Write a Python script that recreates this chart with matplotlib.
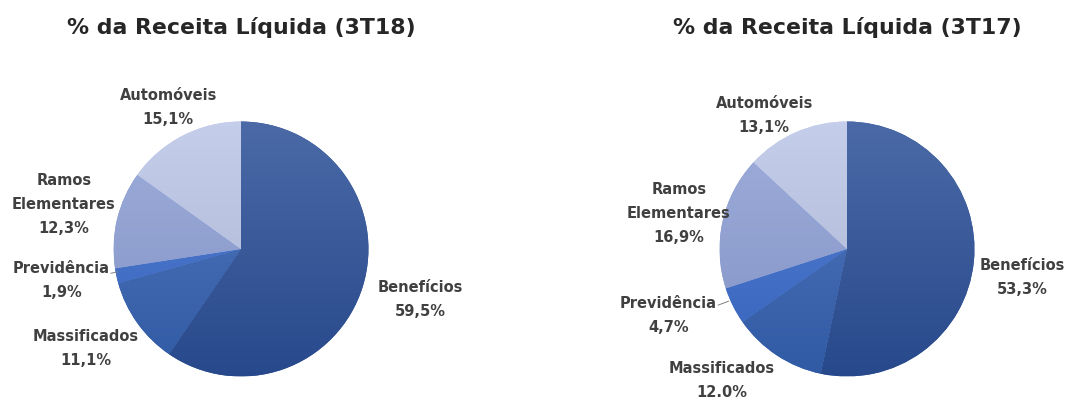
import matplotlib.pyplot as plt
import matplotlib.colors as mcolors
import numpy as np

# data
segments = ["Benefícios", "Massificados", "Previdência", "Ramos\nElementares", "Automóveis"]
share_3t18 = [59.5, 11.1, 1.9, 12.3, 15.1]
share_3t17 = [53.3, 12.0, 4.7, 16.9, 13.1]
labels_3t18 = ["59,5%", "11,1%", "1,9%", "12,3%", "15,1%"]
labels_3t17 = ["53,3%", "12.0%", "4,7%", "16,9%", "13,1%"]
titles = ["% da Receita Líquida (3T18)", "% da Receita Líquida (3T17)"]

colors = ["#2B4F97", "#3562B3", "#3A6BCC", "#8D9FD5", "#BAC5E6"]
text_color = "#404040"

# label anchors, in pie radius units
pos_3t18 = [(1.41, -0.40), (-1.22, -0.78), (-1.41, -0.25), (-1.39, 0.35), (-0.57, 1.11)]
pos_3t17 = [(1.375, -0.22), (-0.98, -1.03), (-1.40, -0.52), (-1.32, 0.28), (-0.65, 1.05)]

W, H = 1066, 401
fig = plt.figure(figsize=(W / 100, H / 100), dpi=100)


def shade(c, f):
    rgb = np.array(mcolors.to_rgb(c))
    if f > 0:
        return rgb + (1 - rgb) * f
    return rgb * (1 + f)


def draw_pie(cx, cy, r, values, pcts, positions, title, leader):
    ax = fig.add_axes([(cx - r) / W, (H - cy - r) / H, 2 * r / W, 2 * r / H])
    wedges, _ = ax.pie(values, colors=colors, startangle=90, counterclock=False,
                       radius=1, wedgeprops=dict(linewidth=0))
    # vertical gradient inside each wedge
    for w, c in zip(wedges, colors):
        top = shade(c, 0.15)
        bot = shade(c, -0.08)
        t = np.linspace(0, 1, 100)[:, None]
        img = top[None, :] * (1 - t[..., None]) + bot[None, :] * t[..., None]
        img = np.repeat(img, 2, axis=1)
        im = ax.imshow(img, extent=(-1, 1, -1, 1), origin="upper", zorder=1,
                       interpolation="bilinear")
        im.set_clip_path(w)
    ax.set_xlim(-1.02, 1.02)
    ax.set_ylim(-1.02, 1.02)
    ax.set_aspect("equal")
    ax.axis("off")
    for name, p, (x, y) in zip(segments, pcts, positions):
        ax.text(x, y, name + "\n" + p, ha="center", va="center", fontsize=10.5,
                fontweight="bold", color=text_color, linespacing=1.75, clip_on=False)
    ax.plot(leader[0], leader[1], color="#808080", lw=0.7, clip_on=False)
    fig.text(cx / W, 1 - 28 / H, title, ha="center", va="center", fontsize=15.8,
             fontweight="bold", color="#262626")


draw_pie(241, 249, 130, share_3t18, labels_3t18, pos_3t18, titles[0],
         ([-1.02, -0.97], [-0.19, -0.18]))
draw_pie(847, 249, 130, share_3t17, labels_3t17, pos_3t17, titles[1],
         ([-1.01, -0.93], [-0.44, -0.41]))

fig.savefig("out.png", dpi=100, facecolor="white")
